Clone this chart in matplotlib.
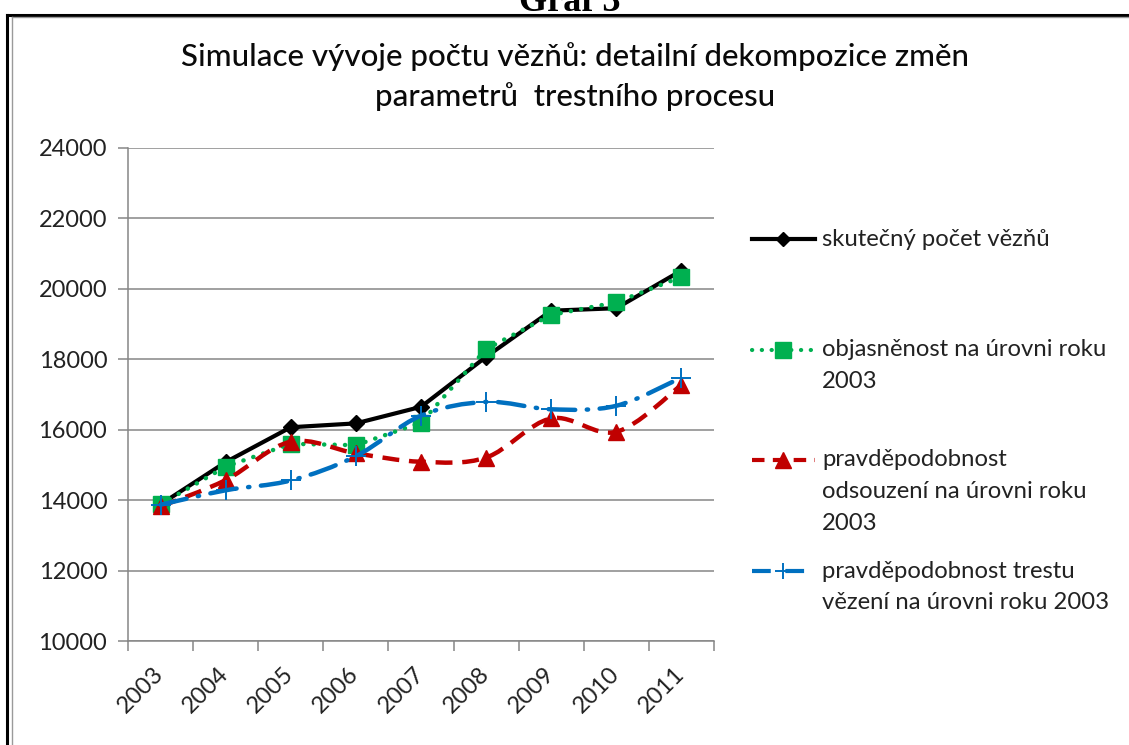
import numpy as np
import matplotlib
matplotlib.use("Agg")
import matplotlib.pyplot as plt
from matplotlib.lines import Line2D
from matplotlib.path import Path
from matplotlib.patches import PathPatch
from matplotlib.transforms import ScaledTranslation

# ---------------- data ----------------
years = ["2003", "2004", "2005", "2006", "2007", "2008", "2009", "2010", "2011"]
actual = [13880, 15080, 16070, 16180, 16650, 18070, 19380, 19450, 20520]
clearance_2003 = [13880, 14950, 15600, 15560, 16200, 18290, 19260, 19620, 20340]
conviction_2003 = [13820, 14570, 15660, 15330, 15090, 15210, 16320, 15940, 17270]
prison_2003 = [13870, 14280, 14560, 15250, 16400, 16790, 16580, 16680, 17480]

labels_actual = ["skutečný počet vězňů"]
labels_clearance = ["objasněnost na úrovni roku", "2003"]
labels_conviction = ["pravděpodobnost", "odsouzení na úrovni roku", "2003"]
labels_prison = ["pravděpodobnost trestu", "vězení na úrovni roku 2003"]

title_lines = ["Simulace vývoje počtu vězňů: detailní dekompozice změn",
               "parametrů  trestního procesu"]
header = "Graf 3"
yticks = [10000, 12000, 14000, 16000, 18000, 20000, 22000, 24000]

# ---------------- style ----------------
FONT = "Lato"
plt.rcParams["font.family"] = [FONT, "DejaVu Sans"]
W, H = 1129, 745
fig = plt.figure(figsize=(W / 100, H / 100), dpi=100)
fig.patch.set_facecolor("white")

def fx(px):
    return px / W

def fy(py):
    return 1 - py / H

TICK_FS = 17
LEG_FS = 17.2
TITLE_FS = 22.5

grid_col = "#868686"
ax = fig.add_axes([fx(128), fy(641), fx(714) - fx(128), fy(148) - fy(641)])
ax.set_xlim(-0.5, len(years) - 0.5)
ax.set_ylim(yticks[0], yticks[-1])
ax.set_yticks(yticks)
ax.set_yticklabels([str(v) for v in yticks], fontsize=TICK_FS, color="#222222")
ax.yaxis.grid(True, color=grid_col, lw=1.1, zorder=0)
ax.set_axisbelow(True)
for s in ["top", "right"]:
    ax.spines[s].set_visible(False)
for s in ["left", "bottom"]:
    ax.spines[s].set_color(grid_col)
    ax.spines[s].set_linewidth(1.1)
ax.tick_params(axis="y", length=7, width=1.1, color=grid_col, pad=8)

x = np.arange(len(years))
ax.set_xticks(x)
ax.set_xticklabels(years, rotation=45, ha="right", fontsize=TICK_FS, color="#222222")
ax.set_xticks(np.arange(len(years) + 1) - 0.5, minor=True)
ax.tick_params(axis="x", which="major", length=0, pad=16)
ax.tick_params(axis="x", which="minor", length=7, width=1.1, color=grid_col)
for lbl in ax.get_xticklabels():
    lbl.set_transform(lbl.get_transform() + ScaledTranslation(0.07, 0, fig.dpi_scale_trans))


def smooth_path(xs, ys):
    xs = np.asarray(xs, float)
    ys = np.asarray(ys, float)
    P = np.column_stack([xs, ys])
    n = len(P)
    verts = [P[0]]
    codes = [Path.MOVETO]
    for i in range(n - 1):
        p0 = P[i - 1] if i > 0 else P[i]
        p1 = P[i]
        p2 = P[i + 1]
        p3 = P[i + 2] if i + 2 < n else P[i + 1]
        c1 = p1 + (p2 - p0) / 6.0
        c2 = p2 - (p3 - p1) / 6.0
        verts += [c1, c2, p2]
        codes += [Path.CURVE4] * 3
    return Path(verts, codes)


black = "#000000"
green = "#00B050"
red = "#C00000"
blue = "#0070C0"

# actual
ax.plot(x, actual, color=black, lw=3, solid_capstyle="round", zorder=3)
ax.plot(x, actual, ls="none", marker="D", ms=8, color=black, zorder=3.1)
# clearance
ax.plot(x, clearance_2003, color=green, lw=3.2, ls=(0, (0.05, 2.3)),
        dash_capstyle="round", zorder=4)
ax.plot(x, clearance_2003, ls="none", marker="s", ms=11, color=green, zorder=4.1)
# conviction (smoothed)
ax.add_patch(PathPatch(smooth_path(x, conviction_2003), fill=False, edgecolor=red,
                       lw=3.2, ls=(0, (3.8, 2.2)), capstyle="butt", zorder=5))
ax.plot(x, conviction_2003, ls="none", marker="^", ms=12, color=red, zorder=5.1)
# prison (smoothed)
ax.add_patch(PathPatch(smooth_path(x, prison_2003), fill=False, edgecolor=blue,
                       lw=3.2, ls=(0, (6.0, 2.6, 0.3, 2.6)), capstyle="round", zorder=6))
ax.plot(x, prison_2003, ls="none", marker="+", ms=14, mew=1.4, color=blue, zorder=6.1)

# ---------------- titles ----------------
fig.text(fx(575), fy(57), title_lines[0], ha="center", va="center", fontsize=TITLE_FS,
         weight="medium", color="#0a0a0a")
fig.text(fx(575), fy(97), title_lines[1], ha="center", va="center", fontsize=TITLE_FS,
         weight="medium", color="#0a0a0a")
fig.text(fx(570), fy(11), header, ha="center", va="baseline", fontsize=26,
         family="Liberation Serif", weight="bold", color="black")

# ---------------- frame ----------------
fig.add_artist(Line2D([fx(7), 1.0], [fy(14.5), fy(14.5)], color="black", lw=2.2))
fig.add_artist(Line2D([fx(7), fx(7)], [fy(14.5), 0], color="black", lw=2.2))
fig.add_artist(Line2D([fx(11.5), 1.0], [fy(17), fy(17)], color="#9a9a9a", lw=1.0))
fig.add_artist(Line2D([fx(11.5), fx(11.5)], [fy(17), 0], color="#9a9a9a", lw=1.0))

# ---------------- legend (manual) ----------------
entries = [
    (labels_actual, 239, dict(color=black, lw=3, ls="-"), dict(marker="D", ms=7, color=black)),
    (labels_clearance, 350, dict(color=green, lw=3, ls=(0, (0.05, 2.3)), dash_capstyle="round"),
     dict(marker="s", ms=11, color=green)),
    (labels_conviction, 460, dict(color=red, lw=3, ls=(0, (3.0, 2.0))), dict(marker="^", ms=11, color=red)),
    (labels_prison, 571, dict(color=blue, lw=3, ls=(0, (4.5, 3.5))), dict(marker="+", ms=12, mew=1.4, color=blue)),
]
for lines, ypx, lstyle, mstyle in entries:
    fig.add_artist(Line2D([fx(752), fx(815)], [fy(ypx), fy(ypx)], **lstyle))
    fig.add_artist(Line2D([fx(783.5)], [fy(ypx)], ls="none", **mstyle))
    for k, t in enumerate(lines):
        fig.text(fx(822), fy(ypx + 31.5 * k), t, ha="left", va="center", fontsize=LEG_FS, color="#222222")

fig.savefig("out.png", dpi=100, facecolor="white")
